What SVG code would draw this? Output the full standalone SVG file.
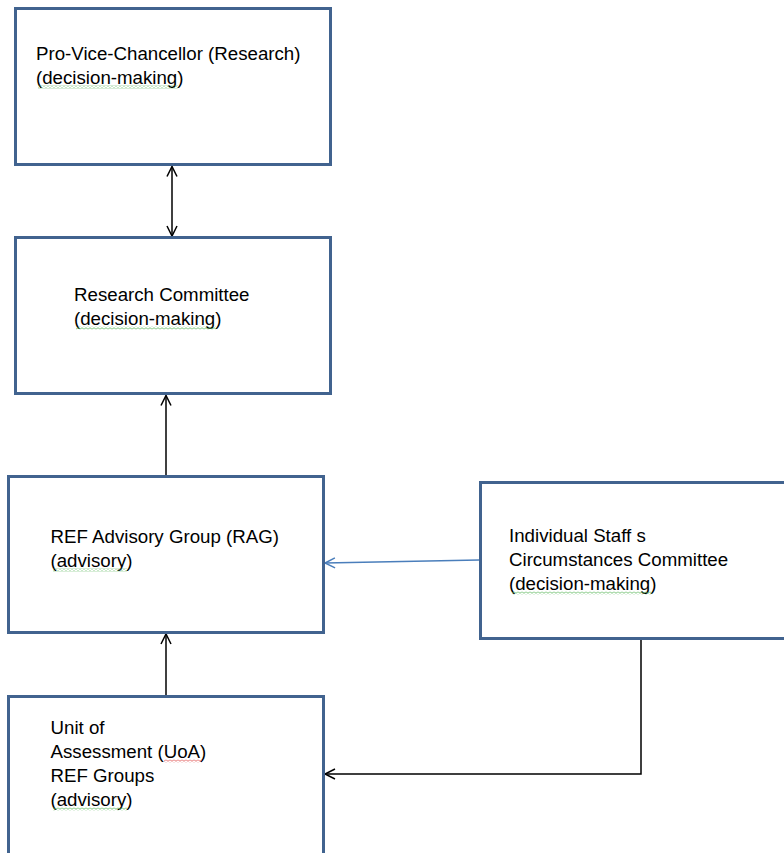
<svg xmlns="http://www.w3.org/2000/svg" width="784" height="853" viewBox="0 0 784 853">
<style>
.box{fill:#ffffff;stroke:#41638f;stroke-width:3}
.t{font-family:"Liberation Sans",Arial,sans-serif;font-size:18.7px;fill:#000000}
.con{fill:none;stroke:#000000;stroke-width:1.5}
.conb{fill:none;stroke:#4a7ebb;stroke-width:1.5}
</style>
<defs>
<marker id="ak" markerUnits="userSpaceOnUse" markerWidth="14" markerHeight="14" viewBox="-12 -7 14 14" refX="0" refY="0" orient="auto-start-reverse">
<path d="M-10,-5 L0,0 L-10,5" fill="none" stroke="#000000" stroke-width="1.5"/>
</marker>
<marker id="ab" markerUnits="userSpaceOnUse" markerWidth="14" markerHeight="14" viewBox="-12 -7 14 14" refX="0" refY="0" orient="auto">
<path d="M-10,-5 L0,0 L-10,5" fill="none" stroke="#4a7ebb" stroke-width="1.5"/>
</marker>
<pattern id="wg" width="4" height="3" patternUnits="userSpaceOnUse">
<path d="M0,2.3 L2,0.7 L4,2.3" fill="none" stroke="#5cb85c" stroke-width="0.8"/>
</pattern>
<pattern id="wr" width="4" height="3" patternUnits="userSpaceOnUse">
<path d="M0,2.3 L2,0.7 L4,2.3" fill="none" stroke="#e05050" stroke-width="0.8"/>
</pattern>
</defs>
<rect width="784" height="853" fill="#ffffff"/>
<g id="connectors">
<line class="con" x1="172" y1="166.5" x2="172" y2="236" marker-start="url(#ak)" marker-end="url(#ak)"/>
<line class="con" x1="166" y1="475" x2="166" y2="395.5" marker-end="url(#ak)"/>
<line class="con" x1="166" y1="695" x2="166" y2="634" marker-end="url(#ak)"/>
<line class="conb" x1="479" y1="560" x2="325" y2="563" marker-end="url(#ab)"/>
<path class="con" d="M641,639 V774 H325" marker-end="url(#ak)"/>
</g>
<g id="pvc">
<rect class="box" x="15.5" y="8.5" width="315" height="156"/>
<text class="t" x="36" y="60">Pro-Vice-Chancellor (Research)</text>
<text class="t" x="36" y="84">(decision-making)</text>
<rect x="38" y="85.5" width="140" height="3" fill="url(#wg)"/>
</g>
<g id="research-committee">
<rect class="box" x="15.5" y="237.5" width="315" height="156"/>
<text class="t" x="74" y="301">Research Committee</text>
<text class="t" x="74" y="325">(decision-making)</text>
<rect x="76" y="326.5" width="140" height="3" fill="url(#wg)"/>
</g>
<g id="rag">
<rect class="box" x="8.5" y="476.5" width="315" height="156"/>
<text class="t" x="50.5" y="543">REF Advisory Group (RAG)</text>
<text class="t" x="50.5" y="567">(advisory)</text>
<rect x="53" y="568.5" width="74" height="3" fill="url(#wg)"/>
</g>
<g id="iscc">
<rect class="box" x="480.5" y="482.5" width="320" height="156"/>
<text class="t" x="509" y="542">Individual Staff s</text>
<text class="t" x="509" y="566">Circumstances Committee</text>
<text class="t" x="509" y="590">(decision-making)</text>
<rect x="512" y="591.5" width="140" height="3" fill="url(#wg)"/>
</g>
<g id="uoa">
<rect class="box" x="8.5" y="696.5" width="315" height="170"/>
<text class="t" x="50.5" y="734">Unit of</text>
<text class="t" x="50.5" y="758">Assessment (UoA)</text>
<text class="t" x="50.5" y="782">REF Groups</text>
<text class="t" x="50.5" y="806">(advisory)</text>
<rect x="164" y="759.5" width="38" height="3" fill="url(#wr)"/>
<rect x="53" y="807.5" width="74" height="3" fill="url(#wg)"/>
</g>
</svg>
